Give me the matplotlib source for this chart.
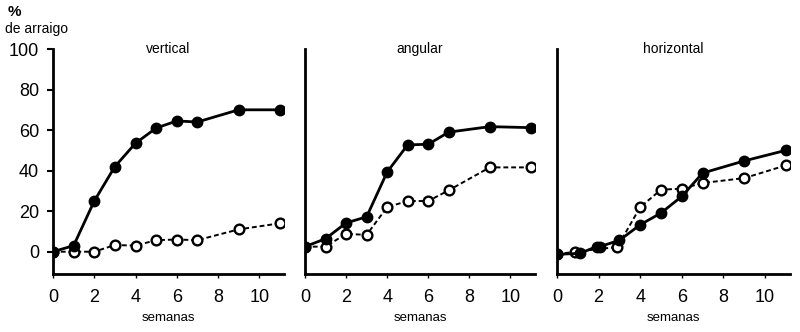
import matplotlib
matplotlib.use('Agg')
import matplotlib.pyplot as plt

plt.rcParams['font.family'] = ['Liberation Sans', 'DejaVu Sans']

# datos (% de arraigo por semana)
titles = ['vertical', 'angular', 'horizontal']

x_solid = [
    [0, 1, 2, 3, 4, 5, 6, 7, 9, 11],
    [0, 1, 2, 3, 4, 5, 6, 7, 9, 11],
    [0, 1.1, 1.9, 2.05, 3, 4, 5, 6, 7, 9, 11],
]
y_solid = [
    [0, 3, 25, 42, 53.5, 61, 64.5, 64, 70, 70],
    [2.5, 6.4, 14.2, 17.2, 39.3, 52.7, 53, 59, 61.7, 61.2],
    [-1.3, -0.8, 2.5, 2.5, 5.6, 13.3, 19.1, 27.3, 38.8, 44.8, 50],
]

x_open = [
    [0, 1, 2, 3, 4, 5, 6, 7, 9, 11],
    [0, 1, 2, 3, 4, 5, 6, 7, 9, 11],
    [0, 0.85, 2.9, 4, 5, 6, 7, 9, 11],
]
y_open = [
    [0, 0, 0, 3.3, 3, 5.7, 6, 5.7, 11, 14],
    [2.5, 2.5, 8.8, 8.3, 22, 25, 25, 30.3, 41.6, 41.6],
    [-1.3, 0, 2.3, 22, 30.6, 31.1, 33.9, 36.3, 42.6],
]

xticks = [0, 2, 4, 6, 8, 10]
yticks = [0, 20, 40, 60, 80, 100]

W, H = 800, 332
fig = plt.figure(figsize=(W / 100, H / 100), dpi=100)

# posiciones de los paneles en pixeles: izquierda, derecha
panels = [(53, 284), (305, 535), (557, 790)]
top, bottom = 49, 274

for i, (l, r) in enumerate(panels):
    ax = fig.add_axes([l / W, (H - bottom) / H, (r - l) / W, (bottom - top) / H])
    ax.plot(x_open[i], y_open[i], color='black', lw=1.4, ls=(0, (2.5, 1.5)),
            marker='o', ms=7, mfc='white', mec='black', mew=1.7, zorder=2)
    ax.plot(x_solid[i], y_solid[i], color='black', lw=2.0, ls='-',
            marker='o', ms=7.5, mfc='black', mec='black', zorder=3)
    ax.set_xlim(0, 11.2)
    ax.set_ylim(-11, 100)
    for s in ['top', 'right']:
        ax.spines[s].set_visible(False)
    ax.spines['left'].set_linewidth(2)
    ax.spines['bottom'].set_linewidth(2)
    ax.set_xticks(xticks)
    ax.set_xticklabels([str(t) for t in xticks], fontsize=13)
    ax.tick_params(axis='x', length=3, width=1, pad=8)
    if i == 0:
        ax.set_yticks(yticks)
        ax.set_yticklabels([str(t) for t in yticks], fontsize=13)
        ax.tick_params(axis='y', length=4, width=1.5, pad=6)
    else:
        ax.set_yticks([])
    ax.text(0.5, 1.0, titles[i], transform=ax.transAxes, ha='center', va='center',
            fontsize=10)
    ax.set_xlabel('semanas', fontsize=9.5, labelpad=4)

fig.text(8 / W, 1 - 12 / H, '%', fontsize=11, fontweight='bold', ha='left', va='center')
fig.text(5 / W, 1 - 29 / H, 'de arraigo', fontsize=10, ha='left', va='center')

fig.savefig('out.png', dpi=100)
